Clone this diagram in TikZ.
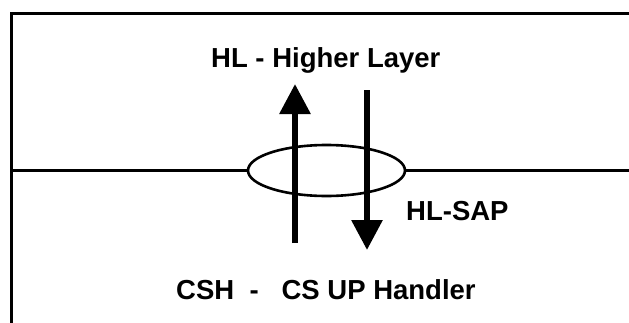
\documentclass[tikz,border=0pt]{standalone}
\usepackage{fontspec}
\setmainfont{Liberation Sans}
\usetikzlibrary{positioning, arrows.meta, shapes.geometric}

\begin{document}
\begin{tikzpicture}[
    x=1pt, y=-1pt,
    font=\bfseries\fontsize{27.5}{32}\selectfont,
    frame/.style={line width=3pt, line cap=rect},
    layer/.style={line width=2.6pt},
    sapring/.style={ellipse, draw, line width=2.6pt, minimum width=157pt, minimum height=51pt, inner sep=0pt},
    prim/.style={line width=6pt, -{Triangle[length=30pt, width=30pt]}},
    lbl/.style={inner sep=0pt, anchor=base west},
]
\useasboundingbox (0,0) rectangle (629,322);

% ---------------------------------------------------------------- frame
\coordinate (tl) at (11.5,13.5);
\coordinate (tr) at (631,13.5);
\coordinate (bl) at (11.5,324);
\draw [frame] (bl) -- (tl) -- (tr);

% ---------------------------------------------------------------- layer boundary and SAP
\node (sap) [sapring] at (326.5,170.5) {};
\coordinate (lw) at (11.5,170.5);
\coordinate (le) at (631,170.5);
\draw [layer] (lw) -- (sap.west);
\draw [layer] (sap.east) -- (le);

% ---------------------------------------------------------------- primitives
\coordinate (upfrom) at (295,243);
\coordinate (upto)   at (295,84);
\coordinate (dnfrom) at (367,90);
\coordinate (dnto)   at (367,250);
\draw [prim] (upfrom) -- (upto);
\draw [prim] (dnfrom) -- (dnto);

% ---------------------------------------------------------------- labels
\node (hl)  [lbl] at (211,67)  {HL - Higher Layer};
\node (hls) [lbl] at (406,220) {HL-SAP};
\node (csh) [lbl] at (176,299) {CSH\ \ -\ \ \ CS UP Handler};

\end{tikzpicture}
\end{document}
